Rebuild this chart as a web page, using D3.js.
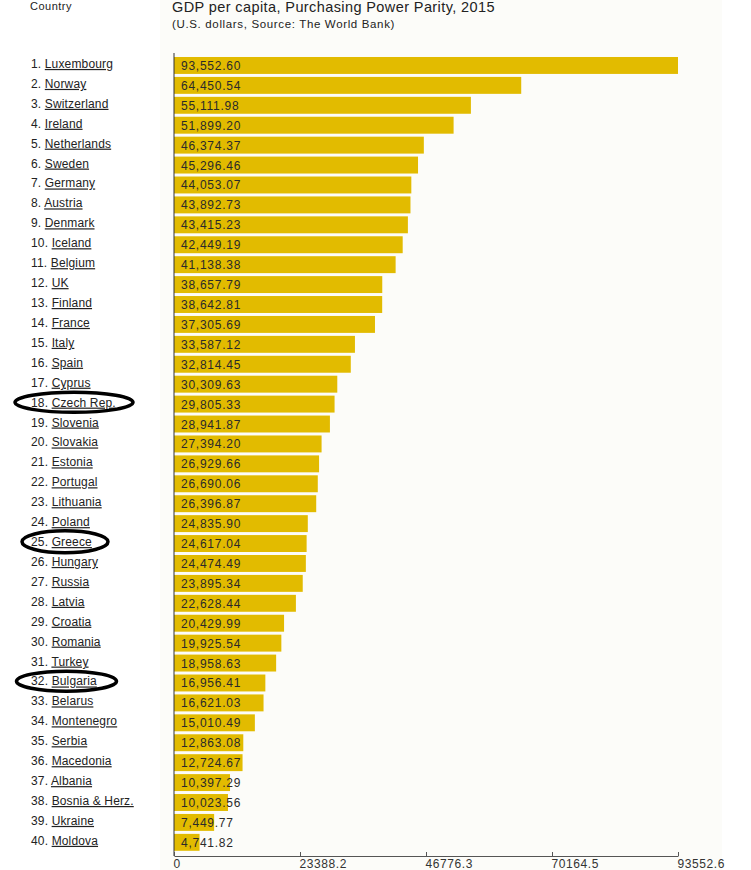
<!DOCTYPE html>
<html><head><meta charset="utf-8">
<script src="https://cdn.jsdelivr.net/npm/d3@7/dist/d3.min.js"></script>
<style>body{margin:0;background:#fff;font-family:Arial,"Liberation Sans",sans-serif;}</style>
</head><body>
<svg id="c" width="751" height="870"></svg>
<script>
const countries = ["Luxembourg","Norway","Switzerland","Ireland","Netherlands","Sweden","Germany","Austria","Denmark","Iceland","Belgium","UK","Finland","France","Italy","Spain","Cyprus","Czech Rep.","Slovenia","Slovakia","Estonia","Portugal","Lithuania","Poland","Greece","Hungary","Russia","Latvia","Croatia","Romania","Turkey","Bulgaria","Belarus","Montenegro","Serbia","Macedonia","Albania","Bosnia & Herz.","Ukraine","Moldova"];
const values = [93552.60,64450.54,55111.98,51899.20,46374.37,45296.46,44053.07,43892.73,43415.23,42449.19,41138.38,38657.79,38642.81,37305.69,33587.12,32814.45,30309.63,29805.33,28941.87,27394.20,26929.66,26690.06,26396.87,24835.90,24617.04,24474.49,23895.34,22628.44,20429.99,19925.54,18958.63,16956.41,16621.03,15010.49,12863.08,12724.67,10397.29,10023.56,7449.77,4741.82];
const tickValues = [0,23388.2,46776.3,70164.5,93552.6];
const highlighted = ["Czech Rep.","Greece","Bulgaria"];
const titleText = "GDP per capita, Purchasing Power Parity, 2015";
const subtitleText = "(U.S. dollars, Source: The World Bank)";

const svg = d3.select("#c");
svg.append("rect").attr("x",160).attr("y",0).attr("width",562).attr("height",870).attr("fill","#fcfcf9");

const x = d3.scaleLinear().domain([0, 93552.6]).range([174, 678]);
const y = d3.scaleBand().domain(countries).range([55.5, 852.3]).paddingInner(0.15).paddingOuter(0.075);

svg.append("text").attr("x",30).attr("y",10).attr("font-size",11).attr("letter-spacing",0.5).attr("fill","#222").text("Country");
svg.append("text").attr("x",172).attr("y",12).attr("font-size",14.5).attr("letter-spacing",0.4).attr("fill","#222").text(titleText);
svg.append("text").attr("x",172).attr("y",28).attr("font-size",11.5).attr("letter-spacing",0.65).attr("fill","#222").text(subtitleText);

const fmt = d3.format(",.2f");
const rows = svg.append("g").selectAll("g").data(countries).join("g");
rows.append("rect")
  .attr("x", x(0)).attr("y", d => y(d))
  .attr("width", (d,i) => x(values[i]) - x(0))
  .attr("height", y.bandwidth())
  .attr("fill", "#e2bb00");
rows.append("text")
  .attr("x", x(0) + 7).attr("y", d => y(d) + y.bandwidth()/2 + 4.5)
  .attr("font-size", 12).attr("fill", "#2a2a2a").attr("letter-spacing", 0.75)
  .text((d,i) => fmt(values[i]));

const lab = rows.append("text")
  .attr("x", 31).attr("y", d => y(d) + y.bandwidth()/2 + 2.5)
  .attr("font-size", 12).attr("letter-spacing", 0.15).attr("fill", "#222");
lab.append("tspan").text((d,i) => (i+1) + ". ");
lab.append("tspan").attr("text-decoration","underline").text(d => d);

// vertical axis line
svg.append("line").attr("x1",x(0)).attr("x2",x(0)).attr("y1",53).attr("y2",856)
  .attr("stroke","#333").attr("stroke-width",1);

const xAxis = d3.axisBottom(x).tickValues(tickValues).tickSize(4).tickSizeOuter(0)
  .tickFormat(d => String(d));
const gx = svg.append("g").attr("transform","translate(0,856)").call(xAxis);
gx.select(".domain").attr("stroke","#555");
gx.selectAll(".tick line").attr("stroke","#555").attr("transform","translate(0,-4)");
gx.selectAll(".tick text").attr("text-anchor","start").attr("dx",-1).attr("y",3)
  .attr("font-size",12).attr("letter-spacing",0.6).attr("fill","#333")
  .attr("font-family","Arial, 'Liberation Sans', sans-serif");

// ellipses around highlighted countries
const ell = {"Czech Rep.":[74,59,10],"Greece":[65,43,11],"Bulgaria":[66.5,50,10]};
svg.append("g").selectAll("ellipse").data(highlighted).join("ellipse")
  .attr("cx", d => ell[d][0]).attr("cy", d => y(d) + y.bandwidth()/2 - 1.8)
  .attr("rx", d => ell[d][1]).attr("ry", d => ell[d][2])
  .attr("fill","none").attr("stroke","#000").attr("stroke-width",3.5);
</script>
</body></html>
